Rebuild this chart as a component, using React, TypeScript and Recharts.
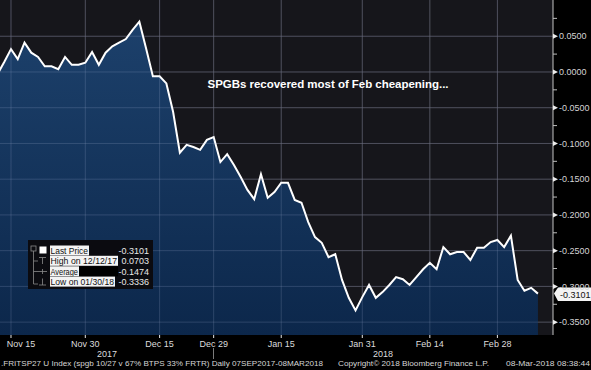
import React from "react";
import { ComposedChart, Area, XAxis, YAxis, ReferenceLine, CartesianGrid } from "recharts";

const dates = [
  "2017-11-13", "2017-11-14", "2017-11-15", "2017-11-16", "2017-11-17",
  "2017-11-20", "2017-11-21", "2017-11-22", "2017-11-23", "2017-11-24",
  "2017-11-27", "2017-11-28", "2017-11-29", "2017-11-30", "2017-12-01",
  "2017-12-04", "2017-12-05", "2017-12-06", "2017-12-07", "2017-12-08",
  "2017-12-11", "2017-12-12", "2017-12-13", "2017-12-14", "2017-12-15",
  "2017-12-18", "2017-12-19", "2017-12-20", "2017-12-21", "2017-12-22",
  "2017-12-27", "2017-12-28", "2017-12-29",
  "2018-01-02", "2018-01-03", "2018-01-04", "2018-01-05",
  "2018-01-08", "2018-01-09", "2018-01-10", "2018-01-11", "2018-01-12",
  "2018-01-15", "2018-01-16", "2018-01-17", "2018-01-18", "2018-01-19",
  "2018-01-22", "2018-01-23", "2018-01-24", "2018-01-25", "2018-01-26",
  "2018-01-29", "2018-01-30", "2018-01-31", "2018-02-01", "2018-02-02",
  "2018-02-05", "2018-02-06", "2018-02-07", "2018-02-08", "2018-02-09",
  "2018-02-12", "2018-02-13", "2018-02-14", "2018-02-15", "2018-02-16",
  "2018-02-19", "2018-02-20", "2018-02-21", "2018-02-22", "2018-02-23",
  "2018-02-26", "2018-02-27", "2018-02-28", "2018-03-01", "2018-03-02",
  "2018-03-05", "2018-03-06", "2018-03-07", "2018-03-08",
];

const values = [
  -0.003, 0.014, 0.032, 0.018, 0.041, 0.027, 0.021, 0.008, 0.008, 0.004,
  0.021, 0.010, 0.010, 0.013, 0.028, 0.010, 0.027, 0.036, 0.041, 0.046,
  0.059, 0.0703, 0.033, -0.006, -0.006, -0.016, -0.056, -0.113, -0.102, -0.105,
  -0.109, -0.095, -0.091, -0.126, -0.115, -0.130, -0.147, -0.165, -0.178, -0.143,
  -0.176, -0.168, -0.155, -0.155, -0.179, -0.183, -0.210, -0.231, -0.239, -0.259,
  -0.255, -0.291, -0.316, -0.3336, -0.315, -0.298, -0.316, -0.308, -0.298, -0.287,
  -0.290, -0.298, -0.287, -0.276, -0.267, -0.276, -0.245, -0.255, -0.252, -0.252,
  -0.263, -0.246, -0.246, -0.238, -0.235, -0.245, -0.229, -0.291, -0.306, -0.302,
  -0.3101,
];

const tickDates = [
  "2017-11-15", "2017-11-30", "2017-12-15", "2017-12-29",
  "2018-01-15", "2018-01-31", "2018-02-14", "2018-02-28",
];
const tickLabels = ["Nov 15", "Nov 30", "Dec 15", "Dec 29", "Jan 15", "Jan 31", "Feb 14", "Feb 28"];
const yearLabels = ["2017", "2018"];
const yMajor = [0.05, 0, -0.05, -0.1, -0.15, -0.2, -0.25, -0.3, -0.35];
const yMinor = [0.075, 0.025, -0.025, -0.075, -0.125, -0.175, -0.225, -0.275, -0.325];
const legendLabels = ["Last Price", "High on 12/12/17", "Average", "Low on 01/30/18"];
const legendValues = ["-0.3101", "0.0703", "-0.1474", "-0.3336"];
const lastPrice = -0.3101;
const annotation = "SPGBs recovered most of Feb cheapening...";
const footerLeft = ".FRITSP27 U Index (spgb 10/27 v 67% BTPS 33% FRTR)  Daily 07SEP2017-08MAR2018";
const footerMid = "Copyright\u00a9 2018 Bloomberg Finance L.P.";
const footerRight = "08-Mar-2018 08:38:44";

const W = 591;
const H = 370;
const Y_DOMAIN: [number, number] = [-0.368, 0.1007];
const X_DOMAIN: [number, number] = [0.372, 82.23];
const FONT = "'Liberation Sans', Arial, sans-serif";
const GRID_OVER = "rgba(190,200,230,0.16)";

const data = values.map((v, i) => ({ i, date: dates[i], v }));
const tickIdx = tickDates.map((d) => dates.indexOf(d));

function XTick(props: any) {
  const { x, y, payload } = props;
  const k = tickIdx.indexOf(payload.value);
  const label = k >= 0 ? tickLabels[k] : "";
  const tx = Math.max(x, 21);
  return (
    <g>
      <line x1={x} x2={x} y1={y} y2={y + 3} stroke="#e6e6e6" strokeWidth={1} />
      <text x={tx} y={y + 12} textAnchor="middle" fontSize={9} fill="#dcdcdc" fontFamily={FONT}>
        {label}
      </text>
    </g>
  );
}

function YTick(props: any) {
  const { x, y, payload } = props;
  const v = payload.value as number;
  const isMajor = yMajor.some((m) => Math.abs(m - v) < 1e-9);
  if (!isMajor) {
    return <line x1={x} x2={x + 4} y1={y} y2={y} stroke="#bdbdbd" strokeWidth={1} />;
  }
  return (
    <g>
      <polygon points={`${x},${y - 2.5} ${x + 5},${y} ${x},${y + 2.5}`} fill="#ececec" />
      <text x={x + 6} y={y + 3.2} fontSize={9} fill="#d4d4d4" fontFamily={FONT}>
        {v.toFixed(4)}
      </text>
    </g>
  );
}

function LastLabel(props: any) {
  const { viewBox } = props;
  if (!viewBox) return null;
  const x = viewBox.x + viewBox.width;
  const y = viewBox.y;
  return (
    <g>
      <polygon
        points={`${x + 1},${y} ${x + 5},${y - 6} ${W},${y - 6} ${W},${y + 7.5} ${x + 5},${y + 7.5}`}
        fill="#f4f4f4"
      />
      <text x={x + 7} y={y + 4} fontSize={9} fill="#111" fontFamily={FONT}>
        {lastPrice.toFixed(4)}
      </text>
    </g>
  );
}

function Overlay() {
  const rowY = [250.7, 261, 271.5, 281.8];
  const labelW = [39, 68, 29, 65];
  return (
    <svg width={W} height={H} style={{ position: "absolute", left: 0, top: 0, pointerEvents: "none" }}>
      <text x={207.5} y={88} fontSize={11.5} fontWeight="bold" fill="#ffffff" fontFamily={FONT}
        textLength={241} lengthAdjust="spacing">
        {annotation}
      </text>
      <rect x={28} y={240} width={125} height={49} fill="#0b0b10" />
      <rect x={31} y={246} width={5} height={5} fill="none" stroke="#8a8a8a" strokeWidth={0.8} />
      <line x1={33.5} x2={33.5} y1={251} y2={284} stroke="#8a8a8a" strokeWidth={0.8} />
      <rect x={39.5} y={246.5} width={7} height={7} fill="#ffffff" />
      <line x1={33.5} x2={38} y1={261} y2={261} stroke="#8a8a8a" strokeWidth={0.8} />
      <line x1={39} x2={46} y1={257.5} y2={257.5} stroke="#8a8a8a" strokeWidth={0.8} />
      <line x1={42.5} x2={42.5} y1={257.5} y2={264} stroke="#8a8a8a" strokeWidth={0.8} />
      <line x1={33.5} x2={47} y1={271.5} y2={271.5} stroke="#8a8a8a" strokeWidth={0.8} />
      <line x1={42.5} x2={42.5} y1={269} y2={274} stroke="#8a8a8a" strokeWidth={0.8} />
      <line x1={33.5} x2={38} y1={284} y2={284} stroke="#8a8a8a" strokeWidth={0.8} />
      <line x1={42.5} x2={42.5} y1={278.5} y2={285} stroke="#8a8a8a" strokeWidth={0.8} />
      <line x1={39} x2={46} y1={285} y2={285} stroke="#8a8a8a" strokeWidth={0.8} />
      {legendLabels.map((l, k) => (
        <g key={l}>
          <rect x={50} y={rowY[k] - 5.2} width={labelW[k]} height={10} fill="#f4f4f4" />
          {k === 2 && <rect x={50 + labelW[k]} y={rowY[k] - 5.2} width={39} height={10} fill="#000000" />}
          <text x={50.5} y={rowY[k] + 3.3} fontSize={9} fill="#111" fontFamily={FONT}
            textLength={labelW[k] - 1.5} lengthAdjust="spacingAndGlyphs">
            {l}
          </text>
          <text x={149} y={rowY[k] + 3.3} fontSize={9} fill="#e8e8e8" textAnchor="end" fontFamily={FONT}>
            {legendValues[k]}
          </text>
        </g>
      ))}
      <text x={107} y={356.5} fontSize={9} fill="#dcdcdc" textAnchor="middle" fontFamily={FONT}>
        {yearLabels[0]}
      </text>
      <text x={383} y={356.5} fontSize={9} fill="#dcdcdc" textAnchor="middle" fontFamily={FONT}>
        {yearLabels[1]}
      </text>
      <line x1={213.5} x2={213.5} y1={348} y2={359} stroke="#9a9a9a" strokeWidth={0.8} />
      <text x={1} y={366} fontSize={8} fill="#d6d6d6" fontFamily={FONT} textLength={322} lengthAdjust="spacingAndGlyphs">
        {footerLeft}
      </text>
      <text x={338} y={366} fontSize={8} fill="#d6d6d6" fontFamily={FONT} textLength={151} lengthAdjust="spacingAndGlyphs">
        {footerMid}
      </text>
      <text x={506} y={366} fontSize={8} fill="#d6d6d6" fontFamily={FONT} textLength={84} lengthAdjust="spacingAndGlyphs">
        {footerRight}
      </text>
    </svg>
  );
}

export default function App() {
  return (
    <div style={{ position: "absolute", left: 0, top: 0, width: W, height: H, background: "#000", overflow: "hidden" }}>
      <ComposedChart width={W} height={H} data={data} margin={{ top: 0, right: 0, bottom: 0, left: 0 }}>
        <defs>
          <linearGradient id="navyFill" x1="0" y1="0" x2="0" y2="1">
            <stop offset="0%" stopColor="#1d4574" />
            <stop offset="100%" stopColor="#0b2950" />
          </linearGradient>
        </defs>
        <CartesianGrid
          fill="#16161b"
          stroke="#3a3a44"
          strokeWidth={1}
          horizontalValues={yMajor}
          verticalValues={tickIdx}
        />
        <XAxis
          dataKey="i"
          type="number"
          domain={X_DOMAIN}
          allowDataOverflow
          ticks={tickIdx}
          interval={0}
          tick={<XTick />}
          tickLine={false}
          axisLine={false}
          tickSize={0}
          tickMargin={0}
          height={35}
        />
        <YAxis
          orientation="right"
          type="number"
          domain={Y_DOMAIN}
          allowDataOverflow
          ticks={[...yMajor, ...yMinor]}
          interval={0}
          tick={<YTick />}
          tickLine={false}
          axisLine={{ stroke: "#c4c4c4", strokeWidth: 1 }}
          tickSize={0}
          tickMargin={0}
          width={38}
        />
        <Area
          dataKey="v"
          type="linear"
          stroke="#ffffff"
          strokeWidth={2}
          fill="url(#navyFill)"
          fillOpacity={0.9}
          baseValue={Y_DOMAIN[0]}
          dot={false}
          activeDot={false}
          isAnimationActive={false}
        />
        {yMajor.map((t) => (
          <ReferenceLine key={`h${t}`} y={t} stroke={GRID_OVER} strokeWidth={1} />
        ))}
        {tickIdx.map((t) => (
          <ReferenceLine key={`v${t}`} x={t} stroke={GRID_OVER} strokeWidth={1} />
        ))}
        <ReferenceLine y={lastPrice} stroke="none" ifOverflow="visible" label={<LastLabel />} />
      </ComposedChart>
      <Overlay />
    </div>
  );
}
